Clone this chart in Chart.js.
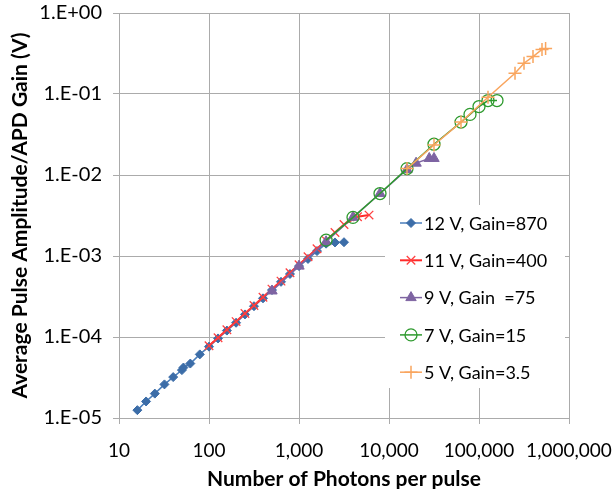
<!DOCTYPE html>
<html>
<head>
<meta charset="utf-8">
<script src="https://cdn.jsdelivr.net/npm/chart.js@4/dist/chart.umd.min.js"></script>
<style>
  html, body { margin: 0; padding: 0; background: #ffffff; }
  #wrap { width: 613px; height: 489px; position: relative; }
</style>
</head>
<body>
<div id="wrap"><canvas id="chart" width="613" height="489"></canvas></div>
<script>
// Tick positions and labels
const xTickValues = [10, 100, 1000, 10000, 100000, 1000000];
const xTickLabels = ['10', '100', '1,000', '10,000', '100,000', '1,000,000'];
const yTickValues = [1e-5, 1e-4, 1e-3, 1e-2, 1e-1, 1];
const yTickLabels = ['1.E-05', '1.E-04', '1.E-03', '1.E-02', '1.E-01', '1.E+00'];

// Series names
const seriesNames = ['12 V, Gain=870', '11 V, Gain=400', '9 V, Gain  =75', '7 V, Gain=15', '5 V, Gain=3.5'];

// 12 V bias
const photons12V = [16, 20, 25, 32, 40, 50, 52, 62, 79, 100, 126, 158, 200, 251, 316, 398, 501, 631, 794, 1000, 1259, 1585, 2000, 2512, 3162];
const amp12V = [1.25e-5, 1.6e-5, 2.0e-5, 2.6e-5, 3.2e-5, 3.9e-5, 4.2e-5, 4.7e-5, 6.1e-5, 7.6e-5, 9.6e-5, 1.2e-4, 1.5e-4, 1.9e-4, 2.4e-4, 3.0e-4, 3.8e-4, 4.8e-4, 6.0e-4, 7.5e-4, 9.2e-4, 1.15e-3, 1.42e-3, 1.47e-3, 1.48e-3];

// 11 V bias
const photons11V = [100, 126, 158, 200, 251, 316, 398, 501, 631, 794, 1000, 1259, 1585, 2000, 2512, 3162, 4467, 6000];
const amp11V = [7.8e-5, 9.8e-5, 1.23e-4, 1.55e-4, 1.95e-4, 2.45e-4, 3.1e-4, 3.9e-4, 4.9e-4, 6.2e-4, 7.8e-4, 9.8e-4, 1.23e-3, 1.55e-3, 1.95e-3, 2.45e-3, 3.05e-3, 3.2e-3];

// 9 V bias
const photons9V = [501, 1000, 2000, 3981, 7943, 15849, 20000, 28000, 31623];
const amp9V = [3.7e-4, 7.5e-4, 1.5e-3, 3.0e-3, 5.9e-3, 1.17e-2, 1.4e-2, 1.6e-2, 1.6e-2];

// 7 V bias
const photons7V = [2000, 3981, 7943, 15849, 31623, 63096, 79433, 100000, 125893, 158489];
const amp7V = [1.57e-3, 3.0e-3, 5.9e-3, 1.2e-2, 2.4e-2, 4.5e-2, 5.6e-2, 7.0e-2, 8.3e-2, 8.3e-2];

// 5 V bias
const photons5V = [15849, 31623, 63096, 125893, 251189, 316228, 398107, 501187, 549541];
const amp5V = [1.2e-2, 2.35e-2, 4.5e-2, 9.1e-2, 0.18, 0.24, 0.29, 0.355, 0.365];

const pairs = (xs, ys) => xs.map((x, i) => ({ x: x, y: ys[i] }));

const FONT = "Lato, 'Liberation Sans', sans-serif";
const GRID = '#ababab';

const datasets = [
  {
    label: seriesNames[0], data: pairs(photons12V, amp12V),
    borderColor: '#4A7EBB', borderWidth: 1.5,
    pointStyle: 'rectRot', pointRadius: 4.5,
    pointBackgroundColor: '#3C6DA8', pointBorderColor: '#3C6DA8', pointBorderWidth: 1,
    order: 5
  },
  {
    label: seriesNames[1], data: pairs(photons11V, amp11V),
    borderColor: '#FF2A2A', borderWidth: 2,
    pointStyle: 'crossRot', pointRadius: 6,
    pointBackgroundColor: 'rgba(0,0,0,0)', pointBorderColor: '#FF4040', pointBorderWidth: 1.3,
    order: 4
  },
  {
    label: seriesNames[2], data: pairs(photons9V, amp9V),
    borderColor: '#7E64A2', borderWidth: 1.5,
    pointStyle: 'triangle', pointRadius: 6,
    pointBackgroundColor: '#7E64A2', pointBorderColor: '#7E64A2', pointBorderWidth: 1,
    order: 3
  },
  {
    label: seriesNames[3], data: pairs(photons7V, amp7V),
    borderColor: '#2E9A2E', borderWidth: 1.5,
    pointStyle: 'circle', pointRadius: 6,
    pointBackgroundColor: 'rgba(0,0,0,0)', pointBorderColor: '#2E9A2E', pointBorderWidth: 1.3,
    order: 2
  },
  {
    label: seriesNames[4], data: pairs(photons5V, amp5V),
    borderColor: '#F9A55E', borderWidth: 1.5,
    pointStyle: 'cross', pointRadius: 6.5,
    pointBackgroundColor: 'rgba(0,0,0,0)', pointBorderColor: '#F9A55E', pointBorderWidth: 1.5,
    order: 1
  }
];
datasets.forEach(d => { d.showLine = true; d.fill = false; d.tension = 0; });

// Legend drawn inside the plot area, on a white box over the grid
const insideLegend = {
  id: 'insideLegend',
  beforeDatasetsDraw(chart) {
    const ctx = chart.ctx;
    const a = chart.chartArea;
    const boxLeft = a.right - 184, boxTop = a.top + 192, boxW = 180, boxH = 183;
    ctx.save();
    ctx.fillStyle = '#ffffff';
    ctx.fillRect(boxLeft, boxTop, boxW, boxH);
    const lineX0 = boxLeft + 15, lineX1 = boxLeft + 37, textX = boxLeft + 39;
    const rowY0 = boxTop + 18, rowGap = 37.3;
    chart.data.datasets.forEach((ds, i) => {
      const y = rowY0 + i * rowGap;
      ctx.strokeStyle = ds.borderColor;
      ctx.lineWidth = ds.borderWidth;
      ctx.beginPath();
      ctx.moveTo(lineX0, y);
      ctx.lineTo(lineX1, y);
      ctx.stroke();
      ctx.fillStyle = ds.pointBackgroundColor;
      ctx.strokeStyle = ds.pointBorderColor;
      ctx.lineWidth = ds.pointBorderWidth;
      Chart.helpers.drawPoint(ctx, {
        pointStyle: ds.pointStyle, radius: ds.pointRadius,
        borderWidth: ds.pointBorderWidth, rotation: 0
      }, (lineX0 + lineX1) / 2, y);
      ctx.fillStyle = '#000000';
      ctx.font = '18px ' + FONT;
      ctx.textAlign = 'left';
      ctx.textBaseline = 'middle';
      ctx.fillText(ds.label, textX, y + 1);
    });
    ctx.restore();
  }
};

new Chart(document.getElementById('chart'), {
  type: 'scatter',
  data: { datasets: datasets },
  options: {
    responsive: false,
    animation: false,
    devicePixelRatio: 1,
    layout: { padding: { top: 13, right: 44, left: 0, bottom: 0 } },
    plugins: {
      legend: { display: false },
      tooltip: { enabled: false }
    },
    scales: {
      x: {
        type: 'logarithmic',
        min: 10, max: 1000000,
        afterBuildTicks: s => { s.ticks = xTickValues.map(v => ({ value: v })); },
        afterFit: s => { s.height = 71; s.paddingLeft = 0; s.paddingRight = 0; },
        grid: { color: GRID, lineWidth: 1, tickLength: 6, drawTicks: true },
        border: { color: GRID, width: 1 },
        ticks: {
          autoSkip: false, maxRotation: 0, padding: 15,
          color: '#000000', font: { family: FONT, size: 19 },
          callback: v => { const i = xTickValues.indexOf(v); return i >= 0 ? xTickLabels[i] : ''; }
        },
        title: {
          display: true, text: 'Number of Photons per pulse',
          color: '#000000', font: { family: FONT, size: 21, weight: 'bold' },
          padding: { top: 0, bottom: -3 }
        }
      },
      y: {
        type: 'logarithmic',
        min: 1e-5, max: 1,
        afterBuildTicks: s => { s.ticks = yTickValues.map(v => ({ value: v })); },
        afterFit: s => { s.width = 119; s.paddingTop = 0; s.paddingBottom = 0; },
        grid: { color: GRID, lineWidth: 1, tickLength: 6, drawTicks: true },
        border: { color: GRID, width: 1 },
        ticks: {
          autoSkip: false, padding: 11,
          color: '#000000', font: { family: FONT, size: 20 },
          callback: v => { const i = yTickValues.indexOf(v); return i >= 0 ? yTickLabels[i] : ''; }
        },
        title: {
          display: true, text: 'Average Pulse Amplitude/APD Gain (V)',
          color: '#000000', font: { family: FONT, size: 21, weight: 'bold' },
          padding: { top: 8, bottom: 0 }
        }
      }
    }
  },
  plugins: [insideLegend]
});
</script>
</body>
</html>
